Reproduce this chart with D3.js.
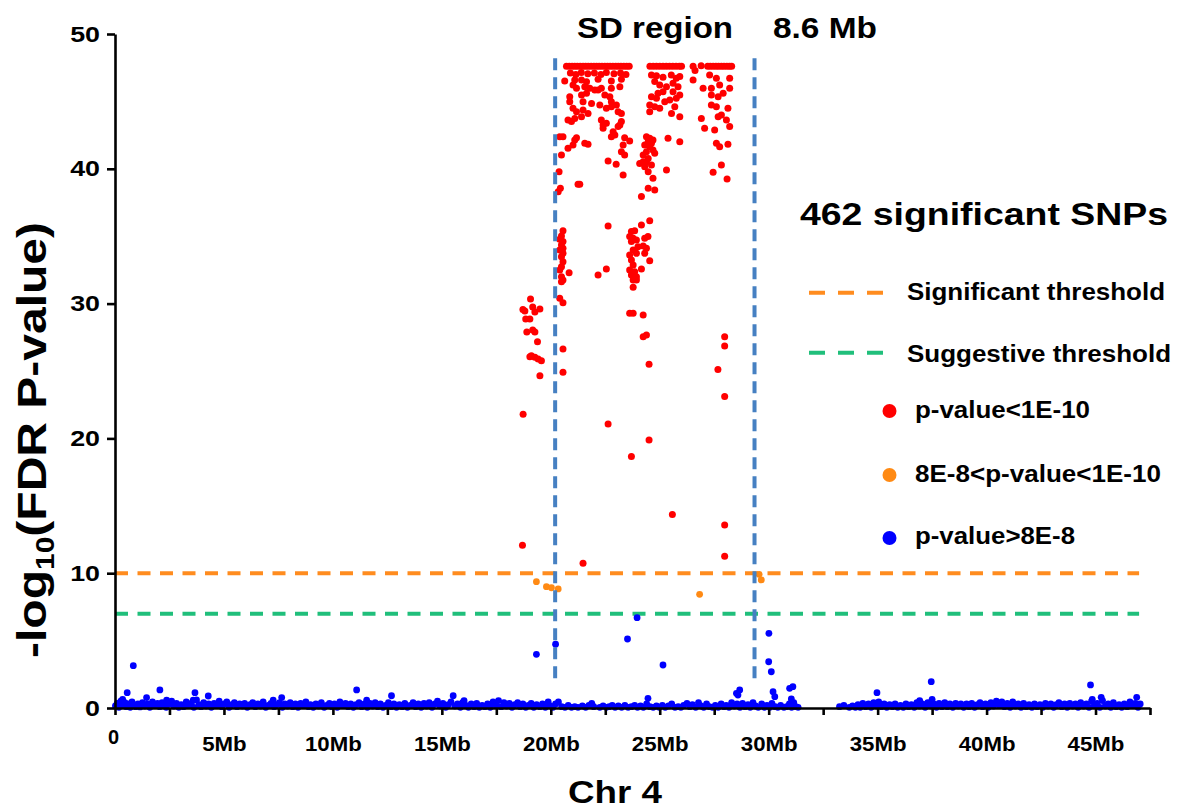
<!DOCTYPE html>
<html><head><meta charset="utf-8">
<script src="https://cdn.jsdelivr.net/npm/d3@7/dist/d3.min.js"></script>
<style>
body{margin:0;background:#fff}
svg{display:block}
text{font-family:"Liberation Sans",Arial,Helvetica,sans-serif;font-weight:bold;fill:#000}
</style>
</head><body>
<svg id="c" width="1179" height="811"></svg>
<script>
// ---------- DATA (Mb, -log10 FDR P) ----------
const xTickValues = [0,2.5,5,7.5,10,12.5,15,17.5,20,22.5,25,27.5,30,32.5,35,37.5,40,42.5,45,47.5];
const xTickLabels = {0:"0",5:"5Mb",10:"10Mb",15:"15Mb",20:"20Mb",25:"25Mb",30:"30Mb",35:"35Mb",40:"40Mb",45:"45Mb"};
const yTickValues = [0,10,20,30,40,50];

const significantThreshold = 10;
const suggestiveThreshold = 7;
const thresholdEnd = 47.0;
const sdBounds = [20.2, 29.35];
const sdLineRange = [1.85, 48.2];

const redLeft = [[19.07,30.34],[18.72,29.56],[18.81,29.45],[19.17,29.75],[19.27,29.38],[19.5,29.6],[18.85,28.86],[19.04,28.86],[18.9,27.89],[19.17,28.04],[19.27,27.89],[19.39,27.17],[19.04,26.06],[19.11,26.13],[19.27,26.02],[19.42,25.89],[19.57,25.76],[19.5,24.65],[18.73,21.79],[18.7,12.07]];

const redEdge = [[20.56,35.41],[20.49,35.01],[20.41,34.77],[20.56,34.6],[20.49,34.35],[20.56,34.1],[20.41,33.98],[20.56,33.73],[20.49,33.48],[20.56,33.11],[20.49,32.74],[20.41,32.49],[20.84,32.29],[20.49,32.0],[20.56,31.75],[20.49,31.63],[20.41,30.39],[20.56,30.07],[20.56,26.63],[20.56,24.9]];

const redTopA = [[20.72,47.6],[20.85,47.6],[20.98,47.6],[21.1,47.6],[21.22,47.6],[21.35,47.6],[21.48,47.6],[21.6,47.6],[21.72,47.6],[21.85,47.6],[21.98,47.6],[22.1,47.6],[22.22,47.6],[22.35,47.6],[22.48,47.6],[22.6,47.6],[22.72,47.6],[22.85,47.6],[22.98,47.6],[23.1,47.6],[23.22,47.6],[23.35,47.6],[23.48,47.6],[23.6,47.6],
[20.9,47.1],[21.15,47.0],[21.4,47.15],[21.7,47.05],[22.0,47.1],[22.3,47.0],[22.55,47.15],[22.9,47.05],[23.2,47.1],[23.45,47.0],
[20.64,46.51],[21.1,46.59],[21.41,46.59],[21.64,46.46],[22.17,46.65],[22.78,46.51],[23.24,46.65],[21.02,46.22],[21.18,45.97],[21.56,46.09],[21.79,45.97],[22.02,45.85],[22.32,45.97],[22.78,45.97],[23.17,46.09],
[20.87,45.35],[21.41,45.47],[21.64,45.6],[22.17,45.85],[22.48,45.47],[22.71,45.35],[20.87,44.98],[21.48,44.98],[21.87,44.85],[22.25,44.73],[22.78,44.98],[23.01,44.73],
[21.02,44.49],[21.18,44.24],[21.48,44.36],[21.71,44.11],[22.55,44.49],[23.09,44.24],[23.24,44.11],[22.78,44.6],[20.79,43.62],[20.95,43.5],[21.1,43.74],[21.41,43.87],[22.32,43.62],[22.4,43.25],[22.55,43.37],[23.24,43.5],
[22.4,43.0],[22.86,42.75],[23.17,43.25],[23.09,43.13],[20.41,42.38],[20.56,42.38],[21.18,42.31],[21.1,42.14],[21.56,41.89],[21.71,41.82],[22.78,42.38],[22.94,42.5],[23.39,42.31],[23.62,42.06],
[20.79,41.52],[21.02,41.77],[23.32,41.77],[20.49,41.02],[23.24,41.27],[23.39,41.02],[22.63,40.58],[23.0,40.33],[20.38,39.79],[23.32,39.54],[21.25,38.85],[21.33,38.85],[20.44,38.55],[20.34,38.3]];

const redTopC = [[24.55,47.6],[24.7,47.6],[24.85,47.6],[25.0,47.6],[25.15,47.6],[25.3,47.6],[25.45,47.6],[25.6,47.6],[25.75,47.6],[25.9,47.6],[26.0,47.6],
[24.62,46.96],[24.85,46.9],[25.15,46.8],[25.53,46.96],[25.76,46.71],[25.92,46.85],[24.77,46.47],[25.0,46.22],[25.31,46.09],[25.61,46.34],[25.84,46.09],
[24.92,45.6],[25.15,45.72],[25.61,45.72],[25.92,45.47],[24.62,45.35],[24.85,45.23],[25.23,44.98],[25.46,45.1],[25.76,45.23],[24.54,44.73],[24.77,44.6],[25.0,44.49],[25.69,44.6],[24.54,44.24],[25.54,44.11],[25.92,43.87],
[24.39,42.38],[24.54,42.26],[24.69,42.14],[24.47,42.01],[24.62,41.89],[24.31,41.77],[24.54,41.64],[24.69,41.39],[24.39,41.27],[24.77,41.15],[24.24,41.02],[24.47,40.77],[24.39,40.53],[24.62,40.28],[24.31,40.16],[24.47,39.79],[24.69,39.3],[24.47,38.55],[24.77,38.43],[24.16,37.94],
[25.38,42.26],[25.92,42.01],[25.31,39.91],[24.08,40.4],[24.24,40.53]];

const redTopD = [[26.53,47.6],[26.62,47.3],[26.9,47.65],[27.2,47.6],[27.32,47.6],[27.45,47.6],[27.58,47.6],[27.7,47.6],[27.83,47.6],[27.95,47.6],[28.08,47.6],[28.2,47.6],[28.3,47.6],
[26.53,46.59],[27.29,46.96],[27.6,46.71],[28.21,46.71],[26.99,45.97],[27.37,45.97],[27.75,46.22],[28.21,45.97],[27.37,45.47],[27.68,45.35],[27.91,45.6],[27.37,44.73],[27.6,44.6],[28.13,44.49],
[26.91,43.74],[27.83,43.99],[28.06,43.62],[27.68,43.87],[27.06,43.0],[27.52,42.88],[28.21,43.13],[27.6,41.89],[27.75,41.64],[28.13,41.82],[27.83,40.28],[27.45,39.74],[28.09,39.25]];

const redMid = [[24.54,36.15],[24.16,35.83],[23.7,35.34],[23.85,35.41],[23.62,34.97],[23.78,34.84],[23.93,34.72],[24.31,34.84],[24.46,34.97],[23.7,34.6],[24.0,34.22],[24.24,34.27],[24.39,34.1],[23.78,33.98],[23.62,33.6],[23.93,33.73],[24.31,33.73],[24.54,33.18],[23.7,33.23],[23.78,32.86],[24.16,32.56],[23.62,32.49],[23.85,32.37],[23.7,32.12],[23.93,32.0],[23.78,31.75],[23.93,31.75],[23.78,31.21],[23.62,29.28],[23.78,29.28],[24.24,29.16],[24.24,27.55],[24.39,27.67],[24.51,25.5],[24.51,19.88],[23.7,18.65]];

const redScatter = [[22.63,35.76],[22.55,32.57],[22.17,32.12],[22.63,21.07],[25.58,14.36],[27.98,27.55],[27.98,26.85],[27.67,25.12],[27.98,23.1],[27.98,13.57],[27.98,11.26],[21.48,10.73]];

const orangePts = [[19.34,9.37],[19.8,9.0],[20.03,8.92],[20.34,8.83],[26.83,8.43],[29.56,9.92],[29.66,9.5]];

const blueHigh = [[19.34,3.98],[20.22,4.73],[23.52,5.12],[23.96,6.7],[25.15,3.19],[24.46,0.72],[30.01,5.54],[30.0,3.43],[30.12,2.69],[30.2,1.21],[30.28,0.84],[28.52,1.09],[28.67,1.34],[28.59,0.96],[30.96,1.46],[31.11,1.58],[31.04,0.67],[15.52,0.91],[16.02,0.54],[0.84,3.14],[0.56,1.14],[2.06,1.34],[1.45,0.77],[2.37,0.59],[3.67,1.14],[3.59,0.59],[4.28,0.89],[0.35,0.64],[7.65,0.77],[7.26,0.59],[11.09,1.34],[12.69,0.91],[11.55,0.59],[34.97,1.14],[37.46,1.95],[36.93,0.54],[37.5,0.64],[44.77,1.71],[45.26,0.79],[46.89,0.79],[44.85,0.64]];

const blueBase = [
[0.02,0.15],[0.1,0.35],[0.18,0.05],[0.27,0.5],[0.36,0.2],[0.45,0.4],[0.52,0.1],[0.6,0.3],[0.7,0.05],[0.78,0.45],[0.88,0.2],[0.95,0.1],
[1.05,0.3],[1.15,0.08],[1.26,0.4],[1.37,0.15],[1.5,0.3],[1.6,0.05],[1.72,0.45],[1.85,0.2],[1.95,0.35],
[2.05,0.1],[2.16,0.4],[2.25,0.2],[2.35,0.05],[2.48,0.3],[2.6,0.5],[2.7,0.15],[2.82,0.35],[2.93,0.05],
[3.04,0.25],[3.15,0.1],[3.27,0.45],[3.38,0.2],[3.5,0.35],[3.62,0.05],[3.74,0.6],[3.85,0.25],[3.95,0.1],
[4.07,0.4],[4.18,0.15],[4.3,0.3],[4.42,0.05],[4.55,0.35],[4.66,0.2],[4.78,0.5],[4.9,0.1],
[5.02,0.3],[5.13,0.45],[5.24,0.05],[5.36,0.25],[5.48,0.4],[5.6,0.1],[5.72,0.3],[5.84,0.15],[5.95,0.35],
[6.07,0.05],[6.2,0.25],[6.32,0.4],[6.44,0.1],[6.56,0.3],[6.68,0.15],[6.8,0.45],[6.92,0.05],
[7.04,0.2],[7.16,0.35],[7.3,0.1],[7.42,0.25],[7.55,0.4],[7.68,0.05],[7.8,0.3],[7.92,0.15],
[8.04,0.4],[8.16,0.1],[8.28,0.3],[8.4,0.05],[8.52,0.35],[8.64,0.2],[8.76,0.45],[8.88,0.1],[8.97,0.25],
[9.1,0.05],[9.22,0.3],[9.35,0.15],[9.47,0.4],[9.6,0.05],[9.72,0.2],[9.84,0.35],[9.95,0.1],
[10.07,0.3],[10.2,0.05],[10.32,0.45],[10.45,0.2],[10.58,0.35],[10.7,0.1],[10.82,0.3],[10.94,0.05],
[11.06,0.25],[11.2,0.4],[11.32,0.1],[11.45,0.3],[11.58,0.05],[11.7,0.35],[11.82,0.15],[11.94,0.4],
[12.06,0.1],[12.18,0.3],[12.3,0.05],[12.42,0.2],[12.55,0.4],[12.68,0.1],[12.8,0.3],[12.92,0.05],
[13.05,0.25],[13.18,0.1],[13.3,0.35],[13.42,0.05],[13.55,0.2],[13.68,0.4],[13.8,0.1],[13.92,0.3],
[14.05,0.05],[14.18,0.35],[14.3,0.15],[14.42,0.4],[14.55,0.05],[14.68,0.3],[14.8,0.5],[14.92,0.15],
[15.05,0.35],[15.18,0.05],[15.3,0.25],[15.42,0.45],[15.6,0.15],[15.72,0.3],[15.85,0.05],[15.95,0.4],
[16.1,0.2],[16.22,0.05],[16.35,0.3],[16.48,0.1],[16.6,0.35],[16.72,0.05],[16.85,0.2],[16.97,0.1],
[17.1,0.3],[17.22,0.05],[17.35,0.45],[17.48,0.2],[17.6,0.55],[17.72,0.1],[17.85,0.4],[17.97,0.15],
[18.1,0.35],[18.22,0.05],[18.35,0.25],[18.48,0.4],[18.6,0.1],[18.72,0.3],[18.85,0.05],[18.97,0.2],
[19.1,0.35],[19.22,0.05],[19.35,0.25],[19.5,0.1],[19.62,0.3],[19.75,0.05],[19.88,0.45],[19.98,0.15],
[20.1,0.05],[20.22,0.3],[20.35,0.45],[20.5,0.1],[20.65,0.05],[20.8,0.2],[20.95,0.05],
[21.1,0.1],[21.25,0.05],[21.45,0.15],[21.6,0.05],[21.75,0.2],[21.88,0.35],[21.97,0.1],
[22.25,0.05],[22.4,0.15],[22.55,0.05],[22.68,0.1],[22.82,0.2],[22.95,0.05],
[23.1,0.15],[23.25,0.05],[23.4,0.2],[23.55,0.05],[23.7,0.1],[23.85,0.2],[23.98,0.05],
[24.12,0.15],[24.25,0.05],[24.4,0.3],[24.55,0.1],[24.7,0.05],[24.85,0.15],[24.98,0.05],
[25.12,0.2],[25.25,0.05],[25.4,0.15],[25.55,0.3],[25.7,0.05],[25.85,0.1],[25.97,0.05],
[26.1,0.2],[26.25,0.35],[26.38,0.1],[26.5,0.25],[26.65,0.05],[26.78,0.4],[26.9,0.15],
[27.02,0.05],[27.15,0.3],[27.28,0.1],[27.42,0.05],[27.55,0.2],[27.68,0.05],[27.82,0.3],[27.95,0.1],
[28.05,0.2],[28.18,0.05],[28.3,0.4],[28.42,0.15],[28.55,0.3],[28.68,0.05],[28.8,0.35],[28.92,0.1],
[29.05,0.25],[29.15,0.05],[29.28,0.4],[29.4,0.15],[29.52,0.05],[29.68,0.3],[29.8,0.05],[29.92,0.2],
[30.05,0.05],[30.15,0.35],[30.3,0.1],[30.42,0.05],[30.55,0.2],[30.7,0.05],[30.82,0.1],[30.95,0.3],
[31.05,0.05],[31.15,0.4],[31.25,0.1],[31.35,0.05],
[33.25,0.1],[33.45,0.2],[33.7,0.05],[33.85,0.15],[33.98,0.05],
[34.1,0.25],[34.2,0.05],[34.32,0.35],[34.45,0.1],[34.58,0.3],[34.7,0.05],[34.82,0.4],[34.95,0.15],
[35.05,0.45],[35.18,0.1],[35.3,0.3],[35.42,0.05],[35.55,0.25],[35.68,0.1],[35.8,0.3],[35.92,0.05],
[36.05,0.2],[36.18,0.05],[36.3,0.3],[36.42,0.1],[36.55,0.25],[36.68,0.05],[36.8,0.4],[36.93,0.15],
[37.05,0.3],[37.18,0.05],[37.3,0.4],[37.45,0.15],[37.58,0.3],[37.7,0.05],[37.82,0.35],[37.95,0.1],
[38.08,0.4],[38.2,0.1],[38.32,0.3],[38.45,0.05],[38.58,0.35],[38.7,0.15],[38.82,0.3],[38.95,0.05],
[39.08,0.3],[39.2,0.1],[39.32,0.35],[39.45,0.05],[39.58,0.25],[39.7,0.4],[39.82,0.1],[39.95,0.3],
[40.08,0.05],[40.2,0.4],[40.32,0.15],[40.45,0.5],[40.58,0.2],[40.7,0.45],[40.82,0.1],[40.95,0.35],
[41.08,0.05],[41.2,0.45],[41.32,0.15],[41.45,0.3],[41.58,0.05],[41.7,0.35],[41.82,0.1],[41.95,0.25],
[42.08,0.05],[42.2,0.3],[42.32,0.1],[42.45,0.25],[42.58,0.05],[42.7,0.35],[42.82,0.15],[42.95,0.3],
[43.08,0.05],[43.2,0.25],[43.32,0.4],[43.45,0.1],[43.58,0.3],[43.7,0.05],[43.82,0.35],[43.95,0.15],
[44.08,0.3],[44.2,0.05],[44.32,0.4],[44.45,0.15],[44.58,0.3],[44.7,0.05],[44.82,0.5],[44.95,0.2],
[45.08,0.35],[45.2,0.05],[45.32,0.55],[45.45,0.15],[45.58,0.3],[45.7,0.05],[45.82,0.4],[45.95,0.1],
[46.08,0.25],[46.2,0.05],[46.32,0.3],[46.45,0.1],[46.58,0.45],[46.7,0.2],[46.82,0.35],[46.95,0.05],[47.05,0.3]];

const legendLines = [{label:"Significant threshold", color:"#ff8c1f"},{label:"Suggestive threshold", color:"#20bf7b"}];
const legendDots = [{label:"p-value<1E-10", color:"#ff0000"},{label:"8E-8<p-value<1E-10", color:"#ff8a14"},{label:"p-value>8E-8", color:"#0000ff"}];

// ---------- CHART ----------
const COL = {red:"#ff0000", orange:"#ff8a14", blue:"#0000ff", sig:"#ff8c1f", sug:"#20bf7b", sd:"#4680c2"};
const svg = d3.select("#c");
svg.append("rect").attr("width",1179).attr("height",811).attr("fill","#fff");

const x = d3.scaleLinear().domain([0,47.5]).range([115,1150]);
const y = d3.scaleLinear().domain([0,50]).range([708,34]);

function stretch(sel, target){
  sel.each(function(){
    const w = this.getComputedTextLength();
    const t = typeof target === "function" ? target(w, this) : target;
    this.setAttribute("textLength", t);
    this.setAttribute("lengthAdjust","spacingAndGlyphs");
  });
}

// threshold lines
svg.append("line").attr("x1",x(0)).attr("x2",x(thresholdEnd)).attr("y1",y(significantThreshold)).attr("y2",y(significantThreshold))
  .attr("stroke",COL.sig).attr("stroke-width",4).attr("stroke-dasharray","13,9.5");
svg.append("line").attr("x1",x(0)).attr("x2",x(thresholdEnd)).attr("y1",y(suggestiveThreshold)).attr("y2",y(suggestiveThreshold))
  .attr("stroke",COL.sug).attr("stroke-width",4).attr("stroke-dasharray","13,9.5");

// points
function dots(data, color, r){
  svg.append("g").selectAll("circle").data(data).join("circle")
    .attr("cx",d=>x(d[0])).attr("cy",d=>y(d[1])).attr("r",r).attr("fill",color);
}
dots(blueBase, COL.blue, 3.4);
dots(blueHigh, COL.blue, 3.4);
dots(orangePts, COL.orange, 3.4);
[redLeft, redEdge, redTopA, redTopC, redTopD, redMid, redScatter].forEach(a=>dots(a, COL.red, 3.5));

// SD region boundaries
sdBounds.forEach(b=>{
  svg.append("line").attr("x1",x(b)).attr("x2",x(b)).attr("y1",y(sdLineRange[1])).attr("y2",y(sdLineRange[0]))
    .attr("stroke",COL.sd).attr("stroke-width",4).attr("stroke-dasharray","12,7");
});

// axes
const xAxis = svg.append("g").attr("transform","translate(0,708)")
  .call(d3.axisBottom(x).tickValues(xTickValues).tickSize(7).tickSizeOuter(0).tickPadding(22)
    .tickFormat(d=> xTickLabels[d] !== undefined ? xTickLabels[d] : ""));
xAxis.select(".domain").attr("stroke","#000").attr("stroke-width",2.6);
xAxis.selectAll(".tick line").attr("stroke","#000").attr("stroke-width",2.6);
xAxis.selectAll(".tick text").style("font-size","19.5px").style("font-family","'Liberation Sans',Arial,sans-serif").style("font-weight","bold").attr("fill","#000");
stretch(xAxis.selectAll(".tick text").filter(d=>d!==0), w=>w*1.14);
xAxis.selectAll(".tick text").filter(d=>d===0).attr("y",22).attr("x",-2).style("font-size","20px");

const yAxis = svg.append("g").attr("transform","translate(115,0)")
  .call(d3.axisLeft(y).tickValues(yTickValues).tickSize(8).tickSizeOuter(0).tickPadding(7));
yAxis.select(".domain").attr("stroke","#000").attr("stroke-width",2.6);
yAxis.selectAll(".tick line").attr("stroke","#000").attr("stroke-width",2.6);
yAxis.selectAll(".tick text").style("font-size","22px").style("font-family","'Liberation Sans',Arial,sans-serif").style("font-weight","bold").attr("fill","#000");
stretch(yAxis.selectAll(".tick text"), w=>w*1.22);

// axis titles
const yl = svg.append("text").attr("transform","translate(46,440) rotate(-90) scale(1.2,1)")
  .attr("text-anchor","middle").style("font-size","40px");
yl.append("tspan").text("-log");
yl.append("tspan").attr("dy",8).style("font-size","25px").text("10");
yl.append("tspan").attr("dy",-8).text("(FDR P-value)");

stretch(svg.append("text").attr("x",568).attr("y",803).style("font-size","32px").text("Chr 4"), 94);

// top annotations
stretch(svg.append("text").attr("x",577).attr("y",38).style("font-size","30px").text("SD region"), 156);
stretch(svg.append("text").attr("x",773).attr("y",38).style("font-size","30px").text("8.6 Mb"), 104);
stretch(svg.append("text").attr("x",800).attr("y",225).style("font-size","32px").text("462 significant SNPs"), 368);

// legend
const lineY = [292.7, 352.7], lineTextY = [299.5, 362], lineTextW = [258, 264];
legendLines.forEach((d,i)=>{
  svg.append("line").attr("x1",809).attr("x2",886).attr("y1",lineY[i]).attr("y2",lineY[i])
    .attr("stroke",d.color).attr("stroke-width",4).attr("stroke-dasharray","16,13");
  stretch(svg.append("text").attr("x",907).attr("y",lineTextY[i]).style("font-size","23px").text(d.label), lineTextW[i]);
});
const dotY = [411, 475, 538], dotTextY = [418, 481.5, 543.5], dotTextW = [175, 246, 160];
legendDots.forEach((d,i)=>{
  svg.append("circle").attr("cx",889.5).attr("cy",dotY[i]).attr("r",7).attr("fill",d.color);
  stretch(svg.append("text").attr("x",915).attr("y",dotTextY[i]).style("font-size","23px").text(d.label), dotTextW[i]);
});
</script>
</body></html>
